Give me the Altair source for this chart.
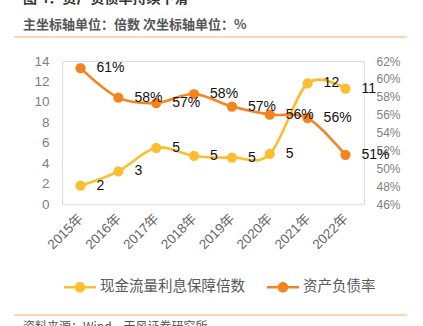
import altair as alt
import pandas as pd

years = ["2015年", "2016年", "2017年", "2018年", "2019年", "2020年", "2021年", "2022年"]
coverage = [1.8, 3.2, 5.5, 4.7, 4.55, 4.9, 11.8, 11.3]
coverage_labels = ["2", "3", "5", "5", "5", "5", "12", "11"]
debt = [61.2, 57.9, 57.3, 58.3, 56.9, 56.0, 55.6, 51.5]
debt_labels = ["61%", "58%", "57%", "58%", "57%", "56%", "56%", "51%"]
series = ["现金流量利息保障倍数", "资产负债率"]
colors = ["#FCBE2E", "#F5841F"]

title_text = "图 4：资产负债率持续下滑"
header_text = "主坐标轴单位：倍数  次坐标轴单位：%"
source_text = "资料来源：Wind，天风证券研究所"

df_c = pd.DataFrame({"year": years, "value": coverage, "label": coverage_labels, "series": series[0]})
df_d = pd.DataFrame({"year": years, "value": debt, "label": debt_labels, "series": series[1]})

FONT = "Liberation Sans, Noto Sans CJK SC"
CJK = "Noto Sans CJK SC"

x_enc = alt.X("year:N", sort=years, title=None,
              scale=alt.Scale(type="point", padding=0.49),
              axis=alt.Axis(labelAngle=-45, labelAlign="right", labelBaseline="middle",
                            labelPadding=12, ticks=False, domainColor="#e6e6e6", domainWidth=1.5,
                            labelColor="#666666", labelFontSize=13.5, labelFont=FONT, grid=False))

path = ("M-1,-0.075H1V0.075H-1Z "
        "M-0.33,0A0.33,0.33,0,1,1,0.33,0A0.33,0.33,0,1,1,-0.33,0Z")

color_enc = alt.Color("series:N", scale=alt.Scale(domain=series, range=colors),
                      legend=alt.Legend(title=None, orient="none", legendX=2, legendY=210,
                                        direction="horizontal", symbolType=path, symbolSize=1024,
                                        symbolStrokeWidth=0, labelFont=CJK, labelFontSize=14.5,
                                        labelColor="#595959", labelOffset=4, columnPadding=22,
                                        padding=0, symbolOpacity=1))

yl = alt.Y("value:Q", title=None,
           scale=alt.Scale(domain=[0, 14], nice=False, zero=False),
           axis=alt.Axis(orient="left", values=list(range(0, 15, 2)), ticks=False, domain=False,
                         grid=False, labelColor="#808080", labelFontSize=13.5, labelFont=FONT,
                         labelPadding=13))
yr = alt.Y("value:Q", title=None,
           scale=alt.Scale(domain=[46, 62], nice=False, zero=False),
           axis=alt.Axis(orient="right", values=list(range(46, 63, 2)), ticks=False, domain=False,
                         grid=False, labelColor="#808080", labelFontSize=12, labelFont=FONT,
                         labelPadding=12, labelExpr="datum.value + '%'"))

def series_layer(df, y):
    base = alt.Chart(df)
    pts = base.mark_circle(size=105, opacity=1).encode(x=x_enc, y=y, color=color_enc)
    line = base.mark_line(interpolate="cardinal", strokeWidth=2.6).encode(x=x_enc, y=y, color=color_enc)
    txt = base.mark_text(align="left", baseline="middle", dx=16, fontSize=14, font=FONT,
                         color="#111111").encode(x=x_enc, y=y, text="label:N")
    return alt.layer(pts, line, txt)

left = series_layer(df_c, yl)
right = series_layer(df_d, yr)

deco_df = pd.DataFrame({"t": [title_text, header_text, source_text]})
deco = alt.Chart(pd.DataFrame({"a": [0]}))
title_m = deco.mark_text(align="left", baseline="bottom", fontSize=14, fontWeight="bold",
                         font=CJK, color="#333333").encode(
    x=alt.value(-39), y=alt.value(-55), text=alt.value(title_text))
header_m = deco.mark_text(align="left", baseline="middle", fontSize=13, fontWeight="bold",
                          font=CJK, color="#555555").encode(
    x=alt.value(-39), y=alt.value(-36), text=alt.value(header_text))
source_m = deco.mark_text(align="left", baseline="top", fontSize=12,
                          font=CJK, color="#555555").encode(
    x=alt.value(-39), y=alt.value(261), text=alt.value(source_text))
rule_top = deco.mark_rule(color="#F6AE70", strokeWidth=1).encode(
    x=alt.value(-48), x2=alt.value(345), y=alt.value(-24))
rule_bot = deco.mark_rule(color="#F6AE70", strokeWidth=1).encode(
    x=alt.value(-48), x2=alt.value(345), y=alt.value(254))

chart = alt.layer(left, right, title_m, header_m, source_m, rule_top, rule_bot).resolve_scale(
    y="independent"
).properties(
    width=302, height=143,
    autosize=alt.AutoSizeParams(type="none"),
    padding={"left": 62, "top": 61, "right": 59, "bottom": 122},
).configure_view(stroke=None).configure(background="white")

chart.save("out.html", embed_options={"renderer": "svg", "actions": False})
